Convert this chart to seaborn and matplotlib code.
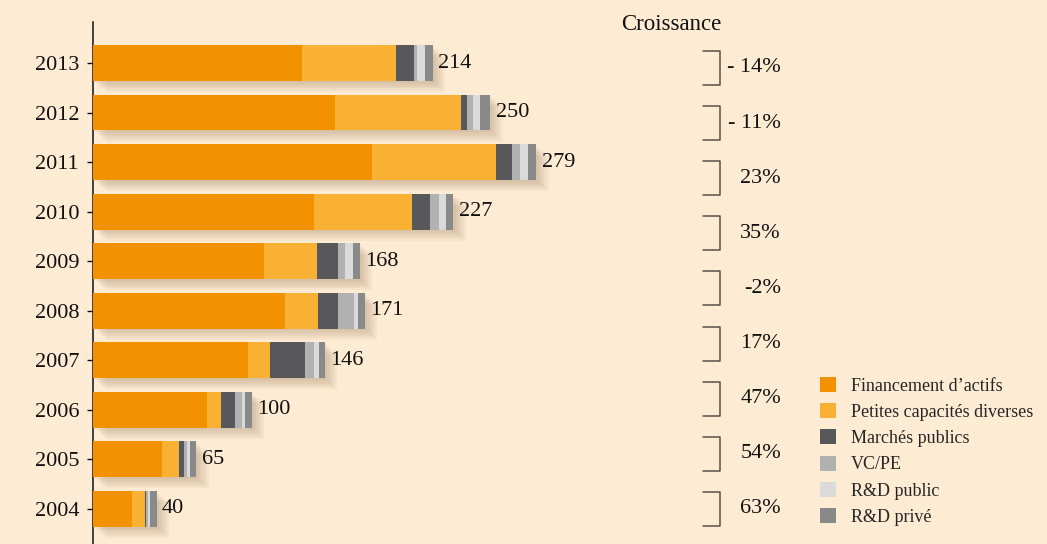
import numpy as np
import pandas as pd
import matplotlib
matplotlib.use("Agg")
import matplotlib.pyplot as plt
import matplotlib.patheffects as pe
from matplotlib.patches import Patch
from matplotlib.lines import Line2D
import seaborn as sns

years = ["2013", "2012", "2011", "2010", "2009", "2008", "2007", "2006", "2005", "2004"]
categories = ["Financement d\u2019actifs", "Petites capacités diverses", "Marchés publics",
              "VC/PE", "R&D public", "R&D privé"]
financement = [131.6, 152.4, 175.7, 139.0, 107.7, 120.9, 97.6, 71.8, 43.5, 24.6]
petites = [59.2, 79.3, 78.1, 62.0, 33.4, 20.8, 13.9, 8.8, 10.7, 8.2]
marches = [11.3, 3.8, 10.1, 11.3, 13.2, 12.6, 22.0, 8.8, 3.1, 0.6]
vcpe = [1.7, 3.8, 5.0, 5.7, 4.4, 10.1, 5.7, 4.4, 1.9, 1.3]
rd_public = [5.2, 4.4, 5.0, 4.5, 5.0, 2.5, 3.1, 2.2, 1.9, 1.3]
rd_prive = [5.0, 6.3, 5.1, 4.5, 4.3, 4.1, 3.7, 4.0, 3.9, 4.0]
totals = [214, 250, 279, 227, 168, 171, 146, 100, 65, 40]
growth_labels = ["- 14%", "- 11%", "23%", "35%", "-2%", "17%", "47%", "54%", "63%"]
colors = ["#F39200", "#F8B133", "#58585A", "#B1B1B1", "#DADADA", "#898989"]

bg = "#FDEBD3"
serif = ["Liberation Serif", "DejaVu Serif"]

df = pd.DataFrame({"year": years, categories[0]: financement, categories[1]: petites,
                   categories[2]: marches, categories[3]: vcpe, categories[4]: rd_public,
                   categories[5]: rd_prive})
cum = df[categories].cumsum(axis=1)

sns.set_style("white")
plt.rcParams["font.family"] = serif

W, H = 1047, 544
fig = plt.figure(figsize=(W / 100, H / 100), dpi=100, facecolor=bg)
ax = fig.add_axes([93 / W, 0, 507 / W, (H - 22) / H])
ax.set_facecolor("none")

# overlay cumulative bars from the longest to the shortest
for i in range(len(categories) - 1, -1, -1):
    n_before = len(ax.patches)
    sns.barplot(x=cum[categories[i]], y=df["year"], orient="h", color=colors[i],
                width=0.72, saturation=1, ax=ax, zorder=3)
    if i == len(categories) - 1:
        shadow = [pe.SimplePatchShadow(offset=(d, -d * 0.9), shadow_rgbFace="#7a5a3a", alpha=0.05)
                  for d in (1.5, 3, 4.5, 6, 7.5, 9)]
        for p in ax.patches[n_before:]:
            p.set_path_effects(shadow + [pe.Normal()])
    for p in ax.patches[n_before:]:
        p.set_edgecolor("none")

for yi, t in enumerate(totals):
    ax.annotate(str(t), (t, yi), xytext=(4, 0), textcoords="offset points",
                va="center", ha="left", fontsize=16, color="#111111")

ax.set_xlim(0, 507 / 1.588)
ax.set_ylim(9.71, -0.83)
ax.set_xlabel("")
ax.set_ylabel("")
ax.set_xticks([])
for s in ["top", "right", "bottom"]:
    ax.spines[s].set_visible(False)
ax.spines["left"].set_color("#111111")
ax.spines["left"].set_linewidth(1.1)
ax.tick_params(axis="y", left=True, length=4, width=1, pad=6, labelsize=16,
               color="#111111", labelcolor="#111111")

# growth column
fig.text(671 / W, 1 - 25 / H, "Croissance", ha="center", va="center", fontsize=16.5,
         color="#111111")
for k, lab in enumerate(growth_labels):
    yc = 68 + k * 55.1
    xs = np.array([703, 720, 720, 703]) / W
    ys = 1 - np.array([yc - 17, yc - 17, yc + 17, yc + 17]) / H
    fig.add_artist(Line2D(xs, ys, color="#5a5048", lw=1.1))
    fig.text(781 / W, 1 - yc / H, lab, ha="right", va="center", fontsize=16,
             color="#111111")

handles = [Patch(facecolor=c, edgecolor="none") for c in colors]
fig.legend(handles, categories, loc="upper left", bbox_to_anchor=(820 / W, 1 - 377 / H),
           frameon=False, fontsize=13, handlelength=0.9, handleheight=0.9,
           handletextpad=0.8, labelspacing=0.47, borderaxespad=0, borderpad=0)

fig.savefig("out.png", dpi=100, facecolor=bg)
